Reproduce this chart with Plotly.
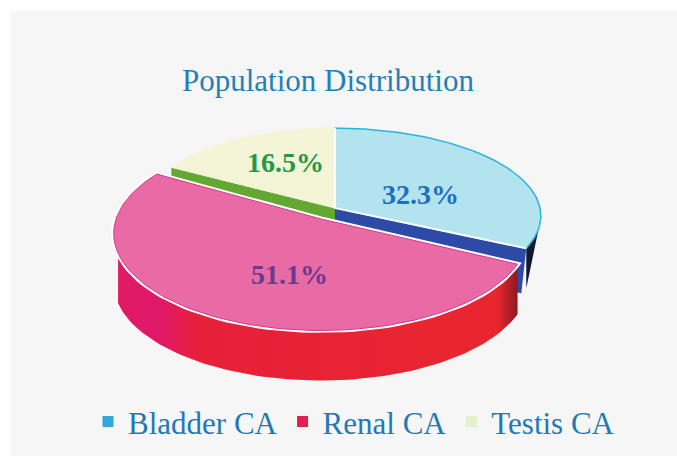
import numpy as np
import plotly.graph_objects as go

# Data
categories = ["Bladder CA", "Renal CA", "Testis CA"]
values = [32.3, 51.1, 16.5]
title_text = "Population Distribution"

# Colours per category
top_colors = ["#b4e3f0", "#e96ba6", "#f3f5d6"]
edge_colors = ["#2ab4dc", "#d8368c", "#f3f5d6"]
cut_colors = ["#2c4aa6", "#e8262e", "#62a832"]
legend_colors = ["#2fa9d6", "#e0204f", "#e6f0cc"]
label_colors = ["#1b6fc4", "#6a3a8c", "#1f9a4a"]

# Drawing geometry (pixels of the page)
W, H = 677, 456
total = sum(values)
spans = np.array(values) / total * 360
starts = np.concatenate([[0], np.cumsum(spans)[:-1]])
# per-slice projection: centre x, centre y, a, b, k
proj = [(335, 208, 205, 87, 0.09), (321, 219, 205, 95, 0.148), (335, 208, 190, 80, 0.0)]


def rim(i, t0=None, t1=None, n=90):
    cx, cy, a, b, k = proj[i]
    t0 = starts[i] if t0 is None else t0
    t1 = starts[i] + spans[i] if t1 is None else t1
    th = np.radians(np.linspace(t0, t1, n))
    w = 1 + k * np.cos(th)
    return cx + a * np.sin(th) / w, cy - b * np.cos(th) / w


def wedge(i):
    x, y = rim(i)
    cx, cy = proj[i][:2]
    return np.r_[cx, x, cx], np.r_[cy, y, cy]


def poly(x, y, fill, line=None, width=0, **kw):
    return go.Scatter(x=x, y=y, mode="lines", fill="toself", fillcolor=fill,
                      line=dict(color=line or fill, width=width), hoverinfo="skip",
                      showlegend=False, **kw)


fig = go.Figure()

# testis: green cut face then top
xr, yr = rim(2)
cx, cy = proj[2][:2]
fig.add_trace(poly([xr[0], cx, cx, xr[0]], [yr[0], cy, cy + 50, yr[0] + 50], cut_colors[2]))
fig.add_trace(poly(*wedge(2), top_colors[2], edge_colors[2], 1))

# bladder: dark outer side, blue cut face, top
xb, yb = rim(0)
xs, ys = rim(0, spans[0] - 13, spans[0], 20)
fig.add_trace(poly(np.r_[xs, xs[-1]], np.r_[ys, ys[-1] + 40], "#111a2e"))
cx, cy = proj[0][:2]
fig.add_trace(poly([cx, xb[-1], xb[-1] - 5, cx], [cy, yb[-1], yb[-1] + 45, cy + 45], cut_colors[0]))
fig.add_trace(poly(*wedge(0), top_colors[0], edge_colors[0], 1.5))
fig.add_trace(go.Scatter(x=[cx, cx, xb[-1]], y=[yb[0], cy, yb[-1]], mode="lines",
                         line=dict(color="white", width=2), hoverinfo="skip", showlegend=False))

# renal: red side, white border, top
xf, yf = rim(1, starts[1], 250)
dy = 50
fig.add_trace(poly(np.r_[xf, xf[::-1]], np.r_[yf, (yf + dy)[::-1]], cut_colors[1],
                   fillgradient=dict(type="horizontal", colorscale=[
                       [0, "#e01a62"], [0.1, "#e0186a"], [0.2, "#e6203a"], [0.95, "#e8262e"], [1, "#8c1a22"]])))
fig.add_trace(poly(*wedge(1), "white", "white", 5))
fig.add_trace(poly(*wedge(1), top_colors[1], edge_colors[1], 1))

# legend entries
for name, color in zip(categories, legend_colors):
    fig.add_trace(go.Scatter(x=[None], y=[None], mode="markers", name=name,
                             marker=dict(symbol="square", size=11, color=color)))

label_pos = [(420, 194), (289, 274), (285, 162)]
annotations = [dict(x=p[0], y=p[1], text=f"<b>{v:.1f}%</b>", showarrow=False, xref="x", yref="y",
                    font=dict(family="Liberation Serif", size=28, color=c))
               for v, p, c in zip(values, label_pos, label_colors)]
annotations.append(dict(x=328, y=80, text=title_text, showarrow=False, xref="x", yref="y",
                        font=dict(family="Liberation Serif", size=31, color="#1f80bd")))

fig.update_layout(
    width=W, height=H, autosize=False,
    margin=dict(l=0, r=0, t=0, b=0),
    paper_bgcolor="white", plot_bgcolor="white",
    xaxis=dict(range=[0, W], visible=False, fixedrange=True),
    yaxis=dict(range=[H, 0], visible=False, fixedrange=True),
    shapes=[dict(type="rect", xref="x", yref="y", x0=10, y0=11, x1=W, y1=H,
                 fillcolor="#f6f6f6", line_width=0, layer="below")],
    annotations=annotations,
    legend=dict(orientation="h", x=0.13, y=0.075, xanchor="left", yanchor="middle",
                font=dict(family="Liberation Serif", size=31, color="#1f78b8"),
                bgcolor="rgba(0,0,0,0)"),
)
fig.write_html("out.html", config={"displayModeBar": False},
               post_script="document.body.style.margin='0';document.documentElement.style.overflow='hidden';")
